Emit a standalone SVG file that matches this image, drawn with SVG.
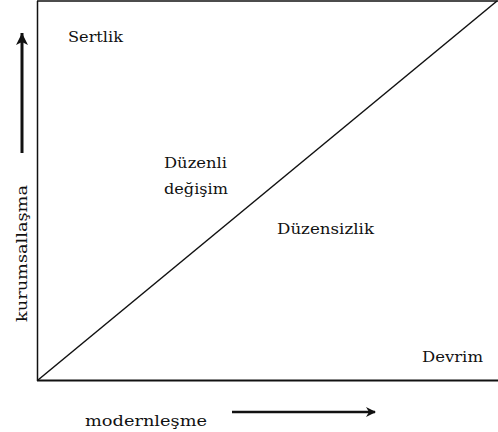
<svg xmlns="http://www.w3.org/2000/svg" width="498" height="432" viewBox="0 0 498 432">
<style>
text{font-family:'DejaVu Serif','Liberation Serif',serif;font-size:15px;fill:#111}
.ax{stroke:#111;fill:none}
</style>
<defs>
<marker id="ah" markerWidth="10" markerHeight="10" refX="9" refY="5" orient="auto" markerUnits="userSpaceOnUse">
<path d="M0,0 L10,5 L0,10 L3,5 Z" fill="#111"/>
</marker>
<marker id="ahv" markerWidth="12" markerHeight="13" refX="12" refY="6" orient="auto" markerUnits="userSpaceOnUse">
<path d="M0,0 L12,6 L0,12 L3,6 Z" fill="#111"/>
</marker>
</defs>
<rect width="498" height="432" fill="#fff"/>
<g id="frame">
<line class="ax" x1="37.5" y1="1" x2="37.5" y2="381" stroke-width="1.5"/>
<line class="ax" x1="37" y1="1" x2="498" y2="1" stroke-width="1.5"/>
<line class="ax" x1="37" y1="380.5" x2="498" y2="380.5" stroke-width="2"/>
</g>
<g id="connectors">
<line class="ax" x1="38" y1="380" x2="497" y2="1" stroke-width="1.5"/>
<line class="ax" x1="22" y1="153" x2="22" y2="33" stroke-width="3" marker-end="url(#ahv)"/>
<line class="ax" x1="232" y1="412" x2="375" y2="412" stroke-width="2.5" marker-end="url(#ah)"/>
</g>
<g id="sertlik"><text x="68" y="42" textLength="55" lengthAdjust="spacingAndGlyphs" font-size="16">Sertlik</text></g>
<g id="duzenli"><text x="164" y="168" textLength="63" lengthAdjust="spacingAndGlyphs">Düzenli</text>
<text x="164" y="194" textLength="64" lengthAdjust="spacingAndGlyphs">değişim</text></g>
<g id="duzensizlik"><text x="277" y="234" textLength="97" lengthAdjust="spacingAndGlyphs">Düzensizlik</text></g>
<g id="devrim"><text x="422" y="362" textLength="61" lengthAdjust="spacingAndGlyphs">Devrim</text></g>
<g id="modernlesme"><text x="85" y="426" textLength="122" lengthAdjust="spacingAndGlyphs">modernleşme</text></g>
<g id="kurumsallasma"><text transform="translate(27,322) rotate(-90)" x="0" y="0" textLength="137" lengthAdjust="spacingAndGlyphs" font-size="16">kurumsallaşma</text></g>
</svg>
